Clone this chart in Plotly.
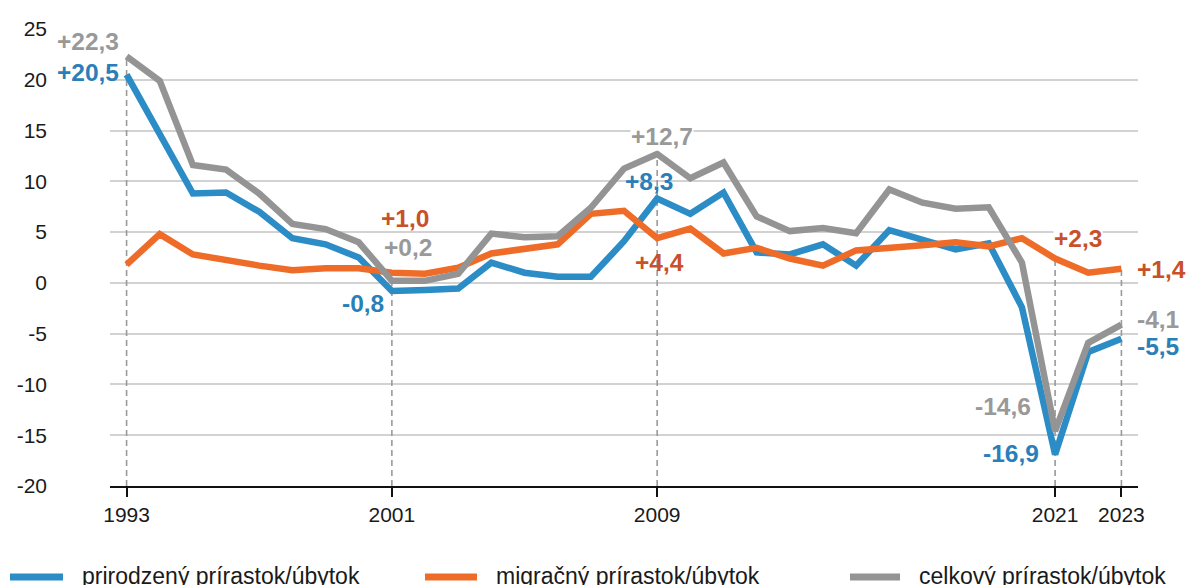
import plotly.graph_objects as go

# ---------------- data ----------------
years = list(range(1993, 2024))

natural = [20.5, 14.8, 8.8, 8.9, 7.0, 4.4, 3.8, 2.5, -0.8, -0.7,
           -0.55, 2.0, 1.0, 0.6, 0.6, 4.1, 8.3, 6.8, 8.9, 3.0,
           2.8, 3.8, 1.7, 5.2, 4.2, 3.3, 3.9, -2.4, -16.9, -6.8, -5.5]

migration = [1.8, 4.8, 2.8, 2.2, 1.7, 1.25, 1.45, 1.45, 1.0, 0.9,
             1.5, 2.9, 3.4, 3.8, 6.8, 7.1, 4.4, 5.35, 2.9, 3.45,
             2.4, 1.7, 3.2, 3.4, 3.7, 4.0, 3.6, 4.4, 2.4, 1.0, 1.4]

total = [22.3, 19.9, 11.6, 11.15, 8.8, 5.8, 5.3, 4.0, 0.2, 0.2,
         0.9, 4.85, 4.5, 4.6, 7.4, 11.25, 12.7, 10.3, 11.85, 6.55,
         5.1, 5.4, 4.9, 9.2, 7.9, 7.3, 7.45, 2.0, -14.6, -5.9, -4.1]

series_names = ["prirodzený prírastok/úbytok",
                "migračný prírastok/úbytok",
                "celkový prírastok/úbytok"]

x_tick_years = [1993, 2001, 2009, 2021, 2023]
y_tick_values = [-20, -15, -10, -5, 0, 5, 10, 15, 20, 25]
y_tick_labels = ["-20", "-15", "-10", "-5", "0", "5", "10", "15", "20", "25"]

# ---------------- styles ----------------
FONT = "Liberation Sans, Arial, sans-serif"
line_colors = ["#2b8cc6", "#ee6c28", "#949494"]
text_colors = ["#2a7fb8", "#c9512a", "#999999"]

W, H = 1188, 585
ML, MR, MT, MB = 110, 50, 29, 99
PW, PH = W - ML - MR, H - MT - MB


def px_to_paper_x(fx):
    return (fx - ML) / PW


def px_to_paper_y(fy):
    return (H - MB - fy) / PH


fig = go.Figure()

# dashed guide lines from the axis to the highest point at the highlighted years
gx, gy = [], []
for yr in x_tick_years:
    i = years.index(yr)
    top = max(natural[i], migration[i], total[i])
    gx += [yr, yr, None]
    gy += [y_tick_values[0], top, None]
fig.add_trace(go.Scatter(x=gx, y=gy, mode="lines", showlegend=False,
                         hoverinfo="skip", cliponaxis=False,
                         line=dict(color="#9a9a9a", width=1.6, dash="6px,4px")))

for vals, name, col in zip([natural, migration, total], series_names, line_colors):
    fig.add_trace(go.Scatter(x=years, y=vals, mode="lines", name=name,
                             showlegend=False,
                             line=dict(color=col, width=6.5)))

# ---------------- value labels ----------------
labels = [
    # (x, y, text, series index, xanchor, bg)
    (1992.8, 23.75, "+22,3", 2, "right", False),
    (1992.8, 20.75, "+20,5", 0, "right", False),
    (1992.32, 1.2, "+1,8", 1, "right", False),
    (2001.4, 6.38, "+1,0", 1, "center", False),
    (2001.49, 3.47, "+0,2", 2, "center", False),
    (2000.8, -2.0, "-0,8", 0, "right", False),
    (2009.16, 14.45, "+12,7", 2, "center", True),
    (2008.75, 10.0, "+8,3", 0, "center", False),
    (2009.07, 2.05, "+4,4", 1, "center", False),
    (2021.7, 4.41, "+2,3", 1, "center", True),
    (2023.45, 1.36, "+1,4", 1, "left", False),
    (2023.45, -3.6, "-4,1", 2, "left", False),
    (2023.45, -6.24, "-5,5", 0, "left", False),
    (2020.3, -12.2, "-14,6", 2, "right", False),
    (2020.55, -16.8, "-16,9", 0, "right", False),
]
for x, y, t, si, xa, bg in labels:
    fig.add_annotation(x=x, y=y, text=t, showarrow=False, xanchor=xa,
                       yanchor="middle",
                       font=dict(family=FONT, size=24.5, color=text_colors[si],
                                 weight="bold"),
                       bgcolor="white" if bg else "rgba(0,0,0,0)",
                       borderpad=0)

# ---------------- legend (drawn manually for exact symbol length) ----------------
legend_items = [(10, 63, 80), (425, 477, 494), (850, 900, 917)]
ly = px_to_paper_y(577)
for (x0, x1, tx), name, col in zip(legend_items, series_names, line_colors):
    fig.add_shape(type="line", xref="paper", yref="paper",
                  x0=px_to_paper_x(x0), x1=px_to_paper_x(x1), y0=ly, y1=ly,
                  line=dict(color=col, width=7))
    fig.add_annotation(xref="paper", yref="paper", x=px_to_paper_x(tx),
                       y=px_to_paper_y(576),
                       text=name, showarrow=False, xanchor="left",
                       yanchor="middle",
                       font=dict(family=FONT, size=23, color="#1a1a1a"))

fig.update_layout(
    width=W, height=H,
    margin=dict(l=ML, r=MR, t=MT, b=MB, autoexpand=False),
    paper_bgcolor="white", plot_bgcolor="white",
    font=dict(family=FONT, size=21, color="#1a1a1a"),
    showlegend=False,
    hovermode=False,
)

fig.update_xaxes(range=[1992.5, 2023.5], tickmode="array", tickvals=x_tick_years,
                 ticktext=[str(v) for v in x_tick_years],
                 showgrid=False, zeroline=False,
                 showline=True, linecolor="#111111", linewidth=2,
                 ticks="outside", ticklen=9, tickwidth=2, tickcolor="#111111",
                 tickfont=dict(size=21, color="#1a1a1a"))

fig.update_yaxes(range=[-20, 25], tickmode="array", tickvals=y_tick_values,
                 ticktext=y_tick_labels, showgrid=True, gridcolor="#d2d2d2",
                 gridwidth=1.5, zeroline=False, showline=False,
                 ticks="", ticklabelstandoff=62,
                 tickfont=dict(size=21, color="#1a1a1a"))

# place the figure at the page's top-left corner (no default body margin)
fig.write_html("out.html",
               config={"displayModeBar": False},
               post_script="document.body.style.margin='0';"
                           "document.body.style.overflow='hidden';")
